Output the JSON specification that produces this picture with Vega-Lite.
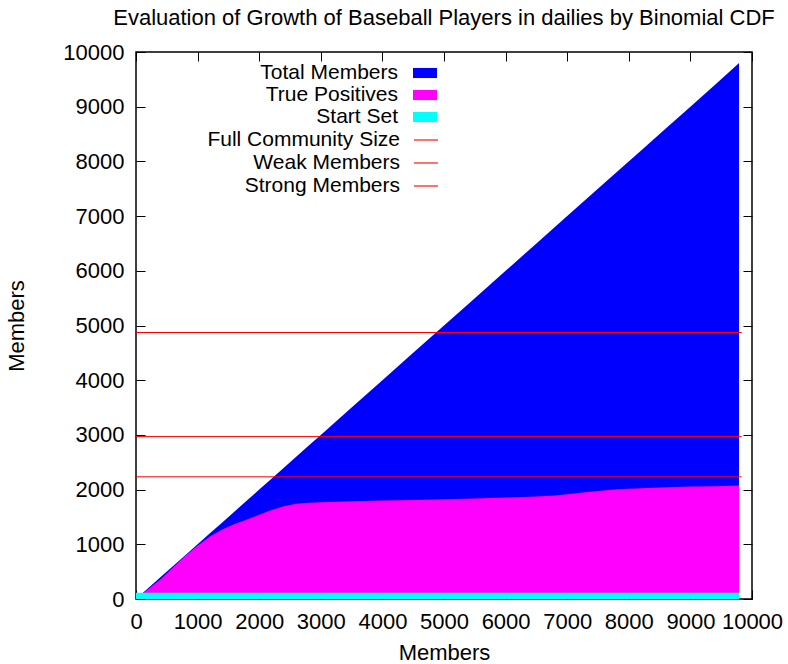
{
  "$schema": "https://vega.github.io/schema/vega-lite/v6.json",
  "width": 616,
  "height": 547,
  "autosize": {"type": "none"},
  "padding": {"left": 136, "top": 52, "right": 36, "bottom": 65},
  "background": "#ffffff",
  "title": {
    "text": "Evaluation of Growth of Baseball Players in dailies by Binomial CDF",
    "fontSize": 22,
    "fontWeight": "normal",
    "color": "#000000",
    "offset": 11
  },
  "config": {
    "font": "Liberation Sans",
    "view": {"stroke": "#000000", "strokeWidth": 1.5},
    "axis": {
      "domain": false,
      "grid": false,
      "ticks": true,
      "tickColor": "#000000",
      "tickSize": -9,
      "tickWidth": 1,
      "labelFontSize": 22,
      "labelColor": "#000000",
      "labelPadding": 21,
      "labelFlush": false,
      "labelOverlap": false,
      "format": "d",
      "titleFontSize": 22,
      "titleFontWeight": "normal",
      "titleColor": "#000000"
    },
    "legend": {
      "labelFontSize": 21,
      "labelColor": "#000000",
      "labelLimit": 400,
      "padding": 0,
      "rowPadding": -2
    }
  },
  "datasets": {
    "growth": [
      {"x": 0, "total": 0, "tp": 0, "start": 115},
      {"x": 400, "total": 400, "tp": 360, "start": 115},
      {"x": 800, "total": 800, "tp": 785, "start": 115},
      {"x": 1000, "total": 1000, "tp": 975, "start": 115},
      {"x": 1200, "total": 1200, "tp": 1141, "start": 115},
      {"x": 1400, "total": 1400, "tp": 1272, "start": 115},
      {"x": 1600, "total": 1600, "tp": 1370, "start": 115},
      {"x": 1800, "total": 1800, "tp": 1452, "start": 115},
      {"x": 2000, "total": 2000, "tp": 1540, "start": 115},
      {"x": 2200, "total": 2200, "tp": 1625, "start": 115},
      {"x": 2400, "total": 2400, "tp": 1697, "start": 115},
      {"x": 2600, "total": 2600, "tp": 1740, "start": 115},
      {"x": 2800, "total": 2800, "tp": 1760, "start": 115},
      {"x": 3000, "total": 3000, "tp": 1770, "start": 115},
      {"x": 3500, "total": 3500, "tp": 1785, "start": 115},
      {"x": 4000, "total": 4000, "tp": 1800, "start": 115},
      {"x": 4500, "total": 4500, "tp": 1810, "start": 115},
      {"x": 5000, "total": 5000, "tp": 1822, "start": 115},
      {"x": 5500, "total": 5500, "tp": 1838, "start": 115},
      {"x": 6000, "total": 6000, "tp": 1855, "start": 115},
      {"x": 6500, "total": 6500, "tp": 1872, "start": 115},
      {"x": 6800, "total": 6800, "tp": 1890, "start": 115},
      {"x": 7000, "total": 7000, "tp": 1915, "start": 115},
      {"x": 7370, "total": 7370, "tp": 1962, "start": 115},
      {"x": 7800, "total": 7800, "tp": 2005, "start": 115},
      {"x": 8200, "total": 8200, "tp": 2025, "start": 115},
      {"x": 8600, "total": 8600, "tp": 2042, "start": 115},
      {"x": 9000, "total": 9000, "tp": 2055, "start": 115},
      {"x": 9400, "total": 9400, "tp": 2063, "start": 115},
      {"x": 9790, "total": 9800, "tp": 2075, "start": 115}
    ],
    "rules": [
      {"name": "Full Community Size", "value": 4872},
      {"name": "Weak Members", "value": 2969},
      {"name": "Strong Members", "value": 2234}
    ]
  },
  "layer": [
    {
      "data": {"name": "growth"},
      "mark": {"type": "area", "opacity": 1, "interpolate": "linear"},
      "encoding": {
        "x": {
          "field": "x", "type": "quantitative",
          "scale": {"domain": [0, 10000], "nice": false, "zero": false},
          "axis": {"orient": "bottom", "title": "Members", "values": [0,1000,2000,3000,4000,5000,6000,7000,8000,9000,10000], "titlePadding": 10}
        },
        "y": {
          "field": "total", "type": "quantitative",
          "scale": {"domain": [0, 10000], "nice": false},
          "stack": null,
          "axis": {"orient": "left", "title": "Members", "values": [0,1000,2000,3000,4000,5000,6000,7000,8000,9000,10000], "titlePadding": 34}
        },
        "fill": {
          "datum": "Total Members",
          "type": "nominal",
          "scale": {"domain": ["Total Members", "True Positives", "Start Set"], "range": ["#0000ff", "#ff00ff", "#00ffff"]},
          "legend": {
            "orient": "none",
            "legendX": 54,
            "legendY": 9,
            "title": null,
            "labelAlign": "right",
            "labelOffset": -39,
            "symbolOffset": 223,
            "symbolType": "M-1,-0.42H1V0.42H-1Z",
            "symbolSize": 576,
            "symbolStrokeWidth": 0,
            "symbolOpacity": 1
          }
        }
      }
    },
    {
      "data": {"name": "growth"},
      "mark": {"type": "area", "opacity": 1, "interpolate": "linear"},
      "encoding": {
        "x": {
          "field": "x", "type": "quantitative",
          "axis": {"orient": "top", "title": null, "labels": false, "values": [0,1000,2000,3000,4000,5000,6000,7000,8000,9000,10000]}
        },
        "y": {
          "field": "tp", "type": "quantitative", "stack": null,
          "axis": {"orient": "right", "title": null, "labels": false, "values": [0,1000,2000,3000,4000,5000,6000,7000,8000,9000,10000]}
        },
        "fill": {"datum": "True Positives", "type": "nominal"}
      }
    },
    {
      "data": {"name": "growth"},
      "mark": {"type": "area", "opacity": 1, "interpolate": "linear"},
      "encoding": {
        "x": {"field": "x", "type": "quantitative", "axis": null},
        "y": {"field": "start", "type": "quantitative", "stack": null, "axis": null},
        "fill": {"datum": "Start Set", "type": "nominal"}
      }
    },
    {
      "data": {"name": "rules"},
      "mark": {"type": "rule", "strokeWidth": 1},
      "encoding": {
        "x": {"datum": 0, "type": "quantitative", "axis": null},
        "x2": {"datum": 9830},
        "y": {"field": "value", "type": "quantitative", "axis": null},
        "stroke": {
          "field": "name",
          "type": "nominal",
          "scale": {"domain": ["Full Community Size", "Weak Members", "Strong Members"], "range": ["#ff0000", "#ff0000", "#ff0000"]},
          "legend": {
            "orient": "none",
            "legendX": 54,
            "legendY": 75,
            "title": null,
            "labelAlign": "right",
            "labelOffset": -39,
            "symbolOffset": 223,
            "symbolType": "stroke",
            "symbolSize": 576,
            "symbolStrokeWidth": 2,
            "symbolOpacity": 0.55
          }
        }
      }
    }
  ],
  "resolve": {"axis": {"x": "independent", "y": "independent"}}
}
